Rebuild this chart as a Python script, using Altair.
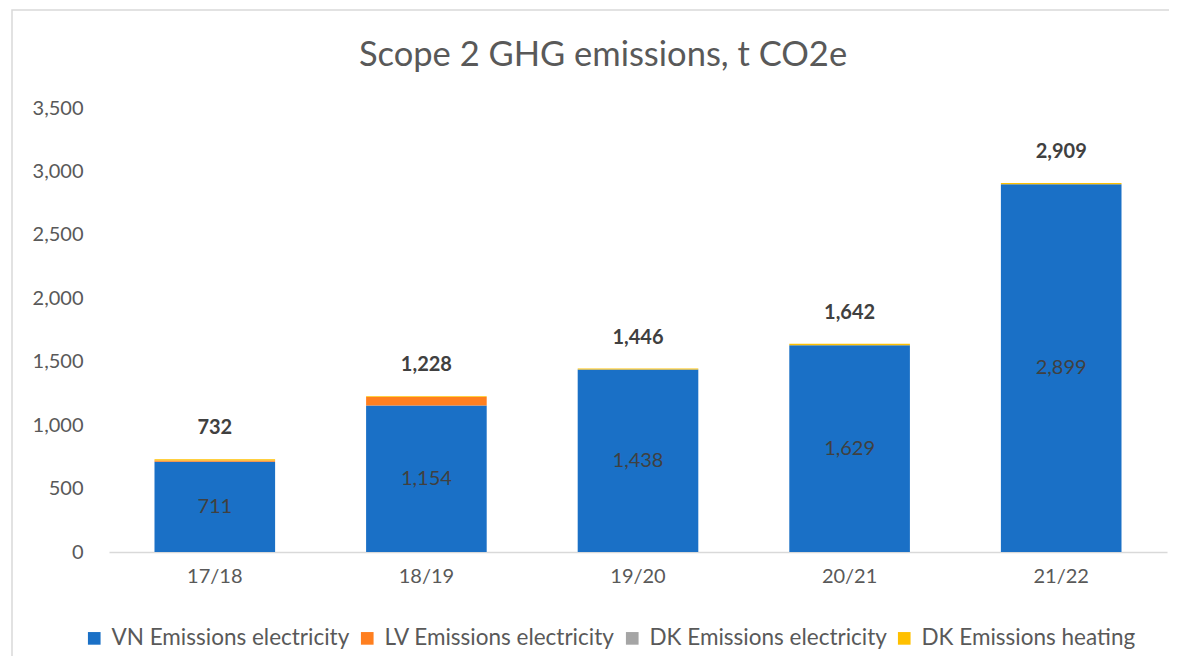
import altair as alt
import pandas as pd

years = ["17/18", "18/19", "19/20", "20/21", "21/22"]
series = ["VN Emissions electricity", "LV Emissions electricity",
          "DK Emissions electricity", "DK Emissions heating"]
colors = ["#1A70C6", "#FF7F1F", "#A5A5A5", "#FFC000"]

vn_elec = [711, 1154, 1438, 1629, 2899]
lv_elec = [11, 68, 0, 0, 0]
dk_elec = [0, 0, 0, 0, 0]
dk_heat = [10, 6, 8, 13, 10]
totals = [732, 1228, 1446, 1642, 2909]

rows = []
for i, y in enumerate(years):
    for k, (s, vals) in enumerate(zip(series, [vn_elec, lv_elec, dk_elec, dk_heat])):
        rows.append({"year": y, "series": s, "value": vals[i], "order": k})
df = pd.DataFrame(rows)
df_vn = pd.DataFrame({"year": years, "value": vn_elec, "mid": [v / 2 for v in vn_elec]})
df_tot = pd.DataFrame({"year": years, "total": totals})

FONT = "Lato"
W, H = 1058, 444

xenc = alt.X("year:N", sort=years, title=None,
             scale=alt.Scale(paddingInner=0.43, paddingOuter=0.215),
             axis=alt.Axis(labelAngle=0, labelFontSize=20, labelColor="#595959",
                           labelFont=FONT, ticks=False, domainColor="#D9D9D9",
                           domainWidth=1.3, labelPadding=14))

bars = alt.Chart(df).mark_bar().encode(
    x=xenc,
    y=alt.Y("sum(value):Q", title=None,
            scale=alt.Scale(domain=[0, 3500], nice=False),
            axis=alt.Axis(values=list(range(0, 3501, 500)), format=",d", grid=False,
                          domain=False, ticks=False, labelFontSize=20,
                          labelColor="#595959", labelFont=FONT, labelPadding=26)),
    color=alt.Color("series:N", sort=series,
                    scale=alt.Scale(domain=series, range=colors),
                    legend=alt.Legend(title=None, orient="none", direction="horizontal",
                                      columns=4, legendX=-26, legendY=519,
                                      symbolType="square", symbolSize=160,
                                      symbolStrokeWidth=0, labelFontSize=22.5,
                                      labelFont=FONT, labelColor="#595959",
                                      labelLimit=500,
                                      labelOffset=6, columnPadding=6)),
    order=alt.Order("order:Q", sort="ascending"),
)

vn_text = alt.Chart(df_vn).mark_text(fontSize=20, font=FONT, color="#404040").encode(
    x=alt.X("year:N", sort=years),
    y=alt.Y("mid:Q"),
    text=alt.Text("value:Q", format=",d"),
)

tot_text = alt.Chart(df_tot).mark_text(fontSize=20, font=FONT, fontWeight="bold",
                                        color="#404040", dy=-31).encode(
    x=alt.X("year:N", sort=years),
    y=alt.Y("total:Q"),
    text=alt.Text("total:Q", format=",d"),
)

frame = alt.Chart(alt.Data(values=[{}])).mark_rect(
    fill="transparent", stroke="#D9D9D9", strokeWidth=1.5).encode(
    x=alt.value(-97), x2=alt.value(1080), y=alt.value(-98), y2=alt.value(560))

chart = alt.layer(frame, bars, vn_text, tot_text).properties(
    width=W, height=H,
    title=alt.TitleParams("Scope 2 GHG emissions, t CO2e", fontSize=34.5, font=FONT,
                          fontWeight="normal", color="#595959", anchor="middle",
                          frame="group", dx=-35, dy=98, offset=34),
    autosize=alt.AutoSizeParams(type="none"),
    padding={"left": 101, "top": 100, "right": 2, "bottom": 104},
).configure(background="white", view=alt.ViewConfig(strokeWidth=0, stroke="transparent"))

chart.save("out.html", embed_options={"renderer": "svg", "actions": False})
